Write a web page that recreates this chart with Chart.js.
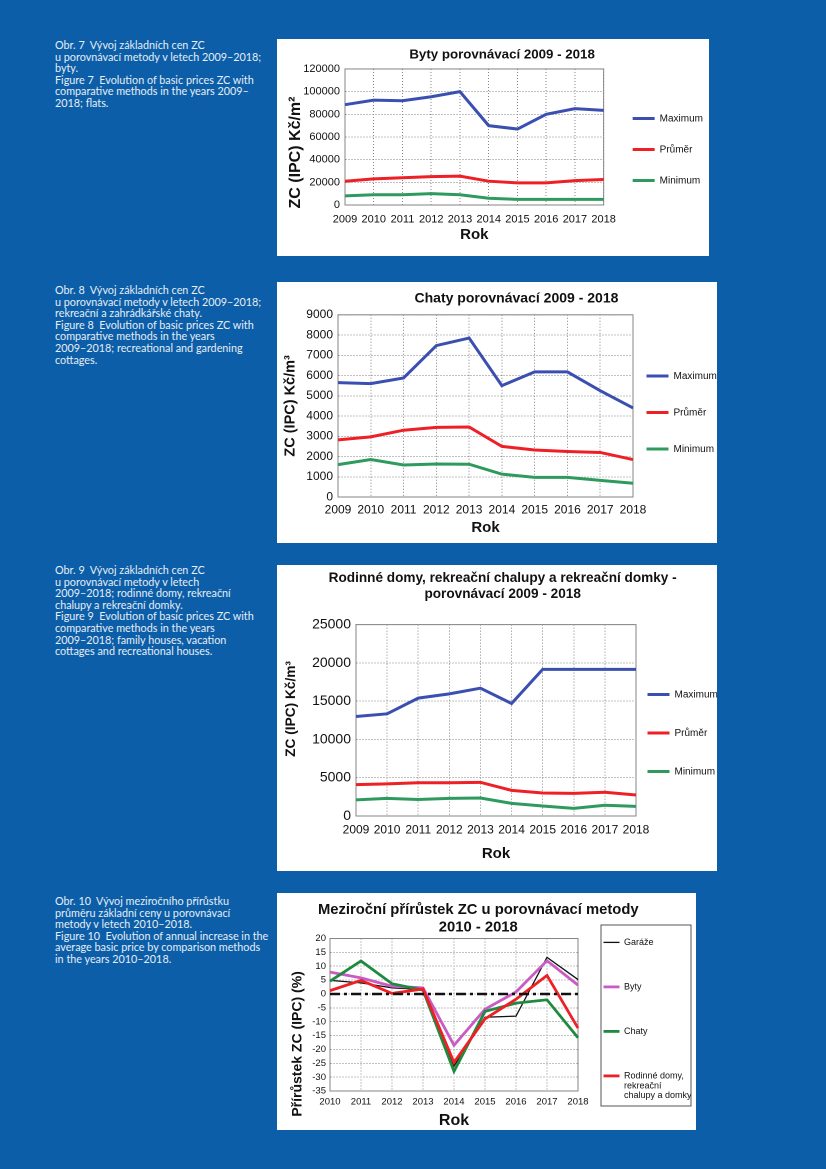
<!DOCTYPE html>
<html lang="cs">
<head>
<meta charset="utf-8">
<title>Vývoj základních cen ZC</title>
<script src="https://cdn.jsdelivr.net/npm/chart.js@4.4.1/dist/chart.umd.min.js"></script>
<style>
    html, body { margin: 0; padding: 0; }
    body { width: 826px; height: 1169px; background: #0b5ea7; position: relative; overflow: hidden; font-family: Lato, "Noto Sans", sans-serif; }
    .caption { position: absolute; left: 55px; width: 225px; color: #e6edf6; font-size: 10.8px; line-height: 11.6px; white-space: nowrap; }
    .panel { position: absolute; background: #fff; }
    .panel canvas { display: block; }
</style>
</head>
<body>

<div class="caption" style="top:39px;">Obr. 7&nbsp; Vývoj základních cen ZC<br>u porovnávací metody v letech 2009–2018;<br>byty.<br>Figure 7&nbsp; Evolution of basic prices ZC with<br>comparative methods in the years 2009–<br>2018; flats.</div>
<div class="panel" style="left:277px; top:39px; width:432px; height:217px;"><canvas id="bytyChart"></canvas></div>

<div class="caption" style="top:284px;">Obr. 8&nbsp; Vývoj základních cen ZC<br>u porovnávací metody v letech 2009–2018;<br>rekreační a zahrádkářské chaty.<br>Figure 8&nbsp; Evolution of basic prices ZC with<br>comparative methods in the years<br>2009–2018; recreational and gardening<br>cottages.</div>
<div class="panel" style="left:277px; top:282px; width:440px; height:261px;"><canvas id="chatyChart"></canvas></div>

<div class="caption" style="top:564px;">Obr. 9&nbsp; Vývoj základních cen ZC<br>u porovnávací metody v letech<br>2009–2018; rodinné domy, rekreační<br>chalupy a rekreační domky.<br>Figure 9&nbsp; Evolution of basic prices ZC with<br>comparative methods in the years<br>2009–2018; family houses, vacation<br>cottages and recreational houses.</div>
<div class="panel" style="left:277px; top:565px; width:440px; height:306px;"><canvas id="domyChart"></canvas></div>

<div class="caption" style="top:895px;">Obr. 10&nbsp; Vývoj meziročního přírůstku<br>průměru základní ceny u porovnávací<br>metody v letech 2010–2018.<br>Figure 10&nbsp; Evolution of annual increase in the<br>average basic price by comparison methods<br>in the years 2010–2018.</div>
<div class="panel" style="left:277px; top:893px; width:419px; height:237px;"><canvas id="prirustekChart"></canvas></div>

<script>
// ---- data ----
const years = ['2009', '2010', '2011', '2012', '2013', '2014', '2015', '2016', '2017', '2018'];
const seriesNames = ['Maximum', 'Průměr', 'Minimum'];

// Obr. 7 byty (Kč/m2)
const bytyMax = [88500, 92500, 92000, 95500, 100000, 70000, 67000, 80000, 85000, 83500];
const bytyAvg = [21000, 23000, 24000, 25000, 25500, 21000, 19500, 19500, 21500, 22500];
const bytyMin = [8000, 9000, 9000, 10000, 9000, 6000, 5000, 5000, 5000, 5000];

// Obr. 8 chaty (Kč/m3)
const chatyMax = [5650, 5600, 5880, 7480, 7850, 5500, 6180, 6180, 5250, 4400];
const chatyAvg = [2820, 2970, 3300, 3440, 3460, 2500, 2320, 2250, 2200, 1850];
const chatyMin = [1600, 1850, 1580, 1630, 1620, 1130, 970, 970, 820, 680];

// Obr. 9 rodinné domy (Kč/m3)
const domyMax = [13000, 13350, 15400, 15950, 16700, 14700, 19150, 19150, 19150, 19150];
const domyAvg = [4100, 4200, 4350, 4350, 4400, 3350, 3000, 2950, 3100, 2750];
const domyMin = [2100, 2300, 2150, 2300, 2350, 1650, 1300, 1000, 1400, 1250];

// Obr. 10 meziroční přírůstek (%)
const growthYears = ['2010', '2011', '2012', '2013', '2014', '2015', '2016', '2017', '2018'];
const garazeGrowth = [4.9, 4.0, 2.2, 1.6, -26.0, -8.4, -8.0, 13.2, 5.2];
const bytyGrowth = [7.9, 5.8, 2.8, 2.2, -18.5, -5.5, 0.7, 12.0, 3.2];
const chatyGrowth = [4.6, 11.9, 3.7, 1.4, -27.9, -6.3, -3.3, -2.1, -15.8];
const domyGrowth = [1.2, 4.9, 0.2, 1.8, -24.7, -9.0, -1.9, 6.7, -12.3];
const zeroLine = [0, 0, 0, 0, 0, 0, 0, 0, 0];
const growthNames = ['Garáže', 'Byty', 'Chaty', ['Rodinné domy,', 'rekreační', 'chalupy a domky']];

const FONT = "'Liberation Sans', Arial, sans-serif";
const seriesColors = ['#3b4fb1', '#ee2026', '#2f9a5e'];
const GRID = '#858585';

Chart.defaults.font.family = FONT;
Chart.defaults.color = '#111';
Chart.defaults.animation = false;
Chart.defaults.devicePixelRatio = 2;

// moves the built-in legend box by a fixed offset, and optionally frames it
const legendNudge = {
    id: 'legendNudge',
    afterLayout(chart, args, opts) {
        const lg = chart.legend;
        if (!lg || !opts) return;
        lg.left += opts.dx || 0;
        lg.right = chart.width + 50;   // keep long labels out of the clip
        lg.top += opts.dy || 0;
        lg.bottom += opts.dy || 0;
    },
    afterDraw(chart, args, opts) {
        if (!opts || !opts.frame) return;
        const f = opts.frame;
        const ctx = chart.ctx;
        ctx.save();
        ctx.strokeStyle = '#555';
        ctx.lineWidth = 1;
        ctx.strokeRect(f.x, f.y, f.w, f.h);
        ctx.restore();
    }
};

// solid frame around the plot area (Excel style)
const plotFrame = {
    id: 'plotFrame',
    beforeDatasetsDraw(chart) {
        const a = chart.chartArea;
        const ctx = chart.ctx;
        ctx.save();
        ctx.strokeStyle = GRID;
        ctx.lineWidth = 1;
        ctx.strokeRect(a.left, a.top, a.right - a.left, a.bottom - a.top);
        ctx.restore();
    }
};
Chart.register(legendNudge, plotFrame);

const plainTick = v => String(v);

function initPriceChart(id, cfg) {
    const ctx = document.getElementById(id).getContext('2d');
    const data = [cfg.max, cfg.avg, cfg.min];
    new Chart(ctx, {
        type: 'line',
        data: {
            labels: years,
            datasets: seriesNames.map((name, i) => ({
                label: name,
                data: data[i],
                borderColor: seriesColors[i],
                backgroundColor: seriesColors[i],
                borderWidth: 3,
                pointRadius: 0,
                tension: 0
            }))
        },
        options: {
            responsive: false,
            layout: { padding: { left: 0, right: cfg.padRight, top: 0, bottom: 0 } },
            plugins: {
                title: {
                    display: true,
                    text: cfg.title,
                    font: { size: cfg.titleSize, weight: 'bold' },
                    color: '#111',
                    lineHeight: 1.2,
                    padding: cfg.titlePad
                },
                legend: {
                    position: 'right',
                    maxWidth: cfg.legendWidth,
                    labels: {
                        usePointStyle: true,
                        pointStyle: 'line',
                        pointStyleWidth: 22,
                        padding: cfg.legendGap,
                        font: { size: 10 },
                        color: '#111'
                    }
                },
                legendNudge: cfg.nudge,
                tooltip: { enabled: false }
            },
            scales: {
                x: {
                    offset: false,
                    grid: { color: GRID, drawTicks: false },
                    border: { display: true, color: GRID, dash: [1, 2] },
                    ticks: { font: { size: cfg.xTickSize }, padding: cfg.xTickPad, maxRotation: 0, autoSkip: false },
                    title: { display: true, text: 'Rok', font: { size: 15, weight: 'bold' }, padding: cfg.xTitlePad },
                    afterFit: s => { s.height = cfg.xHeight; }
                },
                y: {
                    min: 0,
                    max: cfg.yMax,
                    grid: { color: GRID, drawTicks: false },
                    border: { display: true, color: GRID, dash: [1, 2] },
                    ticks: { stepSize: cfg.yStep, font: { size: cfg.yTickSize }, padding: 5, autoSkip: false, callback: plainTick },
                    title: { display: true, text: cfg.yTitle, font: { size: cfg.yTitleSize, weight: 'bold' }, padding: cfg.yTitlePad },
                    afterFit: s => { s.width = cfg.yWidth; }
                }
            }
        }
    });
}

function initGrowthChart() {
    const ctx = document.getElementById('prirustekChart').getContext('2d');
    const growthData = [garazeGrowth, bytyGrowth, chatyGrowth, domyGrowth];
    const growthColors = ['#111111', '#c95bc4', '#1f8a3f', '#ee2026'];
    const growthWidths = [1.3, 2.8, 2.8, 2.8];
    const sets = growthNames.map((name, i) => ({
        label: name,
        data: growthData[i],
        borderColor: growthColors[i],
        backgroundColor: growthColors[i],
        borderWidth: growthWidths[i],
        pointRadius: 0,
        tension: 0,
        order: 4 - i     // later series drawn on top, like Excel
    }));
    sets.push({
        label: 'nula',
        data: zeroLine,
        borderColor: '#111',
        borderWidth: 2.5,
        borderDash: [10, 4, 3, 4],
        pointRadius: 0,
        order: 0
    });
    new Chart(ctx, {
        type: 'line',
        data: { labels: growthYears, datasets: sets },
        options: {
            responsive: false,
            layout: { padding: 0 },
            plugins: {
                title: {
                    display: true,
                    text: ['Meziroční přírůstek ZC u porovnávací metody    ', '2010 - 2018    '],
                    font: { size: 14.8, weight: 'bold' },
                    color: '#111',
                    lineHeight: 1.1,
                    padding: { top: 8, bottom: 2 }
                },
                legend: {
                    position: 'right',
                    reverse: true,
                    maxWidth: 118,
                    labels: {
                        usePointStyle: true,
                        pointStyle: 'line',
                        pointStyleWidth: 16,
                        padding: 35.5,
                        font: { size: 9, lineHeight: 1.1 },
                        color: '#111',
                        filter: item => item.text !== 'nula'
                    }
                },
                legendNudge: { dx: -10, dy: 8, frame: { x: 324, y: 32, w: 90, h: 181 } },
                tooltip: { enabled: false }
            },
            scales: {
                x: {
                    offset: false,
                    grid: { color: GRID, drawTicks: false },
                    border: { display: true, color: GRID, dash: [1, 2] },
                    ticks: { font: { size: 9.5 }, padding: 5, maxRotation: 0, autoSkip: false },
                    title: { display: true, text: 'Rok', font: { size: 16, weight: 'bold' }, padding: { top: 0, bottom: 0 } },
                    afterFit: s => { s.height = 39; }
                },
                y: {
                    min: -35,
                    max: 20,
                    grid: { color: GRID, drawTicks: false },
                    border: { display: true, color: GRID, dash: [1, 2] },
                    ticks: { stepSize: 5, font: { size: 9.5 }, padding: 4, autoSkip: false, callback: plainTick },
                    title: { display: true, text: 'Přírůstek ZC (IPC) (%)               ', font: { size: 14, weight: 'bold' }, padding: { top: 12, bottom: 0 } },
                    afterFit: s => { s.width = 53; }
                }
            }
        }
    });
}

document.addEventListener('DOMContentLoaded', () => {
    const sizeCanvas = (id) => {
        const c = document.getElementById(id);
        c.width = c.parentElement.clientWidth;
        c.height = c.parentElement.clientHeight;
        c.style.width = c.width + 'px';
        c.style.height = c.height + 'px';
    };
    ['bytyChart', 'chatyChart', 'domyChart', 'prirustekChart'].forEach(sizeCanvas);

    initPriceChart('bytyChart', {
        max: bytyMax, avg: bytyAvg, min: bytyMin,
        title: '      Byty porovnávací 2009 - 2018', titleSize: 13.3, titlePad: { top: 8, bottom: 6 },
        yTitle: 'ZC (IPC) Kč/m²       ', yTitleSize: 16, yMax: 120000, yStep: 20000, yTickSize: 11, yWidth: 68, yTitlePad: { top: 9, bottom: 0 },
        xTickSize: 11, xTickPad: 8, xHeight: 51, xTitlePad: { top: 0, bottom: 12 },
        padRight: 4, legendWidth: 106, legendGap: 21, nudge: { dx: 8, dy: 2 }
    });
    initPriceChart('chatyChart', {
        max: chatyMax, avg: chatyAvg, min: chatyMin,
        title: '          Chaty porovnávací 2009 - 2018', titleSize: 14, titlePad: { top: 8, bottom: 8 },
        yTitle: 'ZC (IPC) Kč/m³', yTitleSize: 14.5, yMax: 9000, yStep: 1000, yTickSize: 12, yWidth: 61, yTitlePad: { top: 5, bottom: 0 },
        xTickSize: 12, xTickPad: 6, xHeight: 46, xTitlePad: { top: 0, bottom: 6 },
        padRight: 0, legendWidth: 84, legendGap: 26.5, nudge: { dx: -13, dy: 0 }
    });
    initPriceChart('domyChart', {
        max: domyMax, avg: domyAvg, min: domyMin,
        title: ['   Rodinné domy, rekreační chalupy a rekreační domky -', '   porovnávací 2009 - 2018'], titleSize: 13.6, titlePad: { top: 5, bottom: 22 },
        yTitle: '      ZC (IPC) Kč/m³', yTitleSize: 13.7, yMax: 25000, yStep: 5000, yTickSize: 14, yWidth: 79, yTitlePad: { top: 6, bottom: 0 },
        xTickSize: 12, xTickPad: 7, xHeight: 55, xTitlePad: { top: 0, bottom: 8 },
        padRight: 0, legendWidth: 81, legendGap: 28.5, nudge: { dx: -17, dy: 15 }
    });
    initGrowthChart();
});
</script>
</body>
</html>
